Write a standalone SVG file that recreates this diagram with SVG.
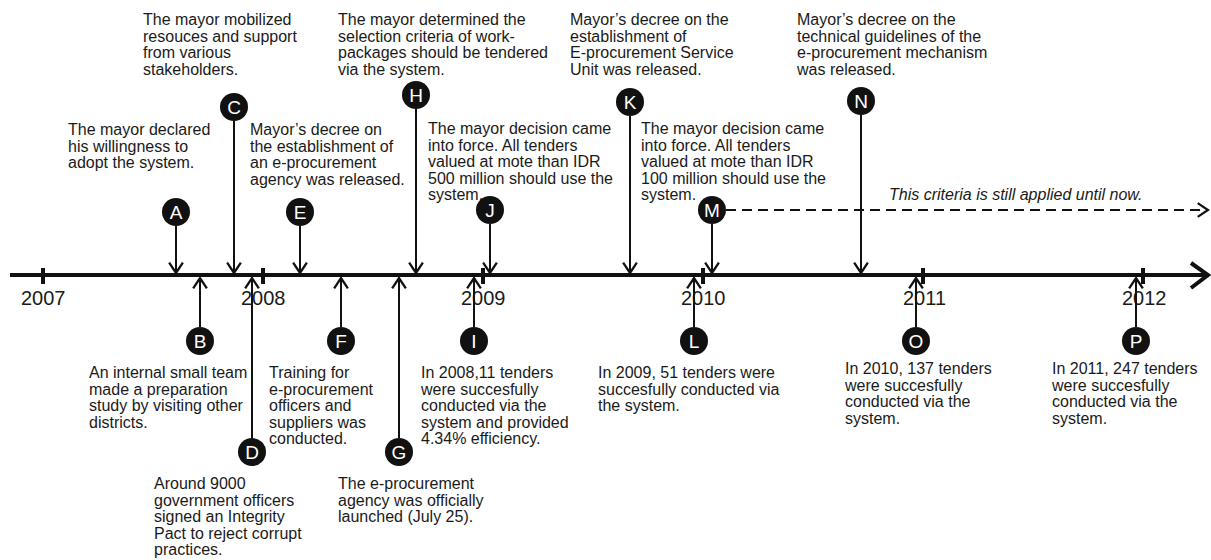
<svg xmlns="http://www.w3.org/2000/svg" width="1211" height="560" viewBox="0 0 1211 560">
<defs>
<style>
.t{font-family:"Liberation Sans",Arial,sans-serif;font-size:16px;fill:#1a1a1a}
.yr{font-family:"Liberation Sans",Arial,sans-serif;font-size:20px;fill:#1a1a1a}
.it{font-family:"Liberation Sans",Arial,sans-serif;font-size:16px;font-style:italic;fill:#1a1a1a}
.c{fill:#111}
.l{font-family:"Liberation Sans",Arial,sans-serif;font-size:19px;fill:#fff;text-anchor:middle}
.ln{stroke:#111;stroke-width:2;fill:none}
.tick{stroke:#111;stroke-width:4}
</style>
<marker id="ah" markerUnits="userSpaceOnUse" markerWidth="14" markerHeight="16" refX="10" refY="7" orient="auto" viewBox="0 0 12 14">
<path d="M1,1 L10,7 L1,13" fill="none" stroke="#111" stroke-width="2"/>
</marker>
</defs>
<rect width="1211" height="560" fill="#fff"/>
<g id="years">
<text class="yr" x="21" y="305">2007</text>
<text class="yr" x="241" y="305">2008</text>
<text class="yr" x="461" y="305">2009</text>
<text class="yr" x="681" y="305">2010</text>
<text class="yr" x="903" y="305">2011</text>
<text class="yr" x="1122" y="305">2012</text>
</g>
<g id="axis">
<line x1="10" y1="275" x2="1207" y2="275" stroke="#111" stroke-width="4"/>
<path d="M1191,263 L1208,275 L1191,288" fill="none" stroke="#111" stroke-width="4"/>
<line class="tick" x1="43" y1="268" x2="43" y2="284"/>
<line class="tick" x1="263" y1="268" x2="263" y2="284"/>
<line class="tick" x1="483" y1="268" x2="483" y2="284"/>
<line class="tick" x1="703" y1="268" x2="703" y2="284"/>
<line class="tick" x1="923" y1="268" x2="923" y2="284"/>
<line class="tick" x1="1143" y1="268" x2="1143" y2="284"/>
</g>
<g id="connectors">
<line class="ln" x1="176" y1="226" x2="176" y2="273" marker-end="url(#ah)"/>
<line class="ln" x1="200" y1="327" x2="200" y2="278" marker-end="url(#ah)"/>
<line class="ln" x1="234" y1="121" x2="234" y2="273" marker-end="url(#ah)"/>
<line class="ln" x1="252" y1="438" x2="252" y2="278" marker-end="url(#ah)"/>
<line class="ln" x1="300" y1="226" x2="300" y2="273" marker-end="url(#ah)"/>
<line class="ln" x1="341" y1="327" x2="341" y2="278" marker-end="url(#ah)"/>
<line class="ln" x1="399" y1="438" x2="399" y2="278" marker-end="url(#ah)"/>
<line class="ln" x1="416" y1="109" x2="416" y2="273" marker-end="url(#ah)"/>
<line class="ln" x1="474" y1="327" x2="474" y2="278" marker-end="url(#ah)"/>
<line class="ln" x1="490" y1="224" x2="490" y2="273" marker-end="url(#ah)"/>
<line class="ln" x1="630" y1="116" x2="630" y2="273" marker-end="url(#ah)"/>
<line class="ln" x1="694" y1="327" x2="694" y2="278" marker-end="url(#ah)"/>
<line class="ln" x1="712" y1="224" x2="712" y2="273" marker-end="url(#ah)"/>
<line class="ln" x1="861" y1="115" x2="861" y2="273" marker-end="url(#ah)"/>
<line class="ln" x1="916" y1="327" x2="916" y2="278" marker-end="url(#ah)"/>
<line class="ln" x1="1136" y1="327" x2="1136" y2="278" marker-end="url(#ah)"/>
<line class="ln" x1="726" y1="210" x2="1208" y2="210" stroke-dasharray="10 6" marker-end="url(#ah)"/>
<text class="it" x="889" y="200">This criteria is still applied until now.</text>
</g>
<g id="node-A">
<text class="t" x="68" y="135"><tspan x="68">The mayor declared</tspan><tspan x="68" dy="16.5">his willingness to</tspan><tspan x="68" dy="16.5">adopt the system.</tspan></text>
<circle class="c" cx="176" cy="212" r="14"/><text class="l" x="176" y="219">A</text>
</g>
<g id="node-B">
<circle class="c" cx="200" cy="341" r="14"/><text class="l" x="200" y="348">B</text>
<text class="t" x="89" y="378"><tspan x="89">An internal small team</tspan><tspan x="89" dy="16.5">made a preparation</tspan><tspan x="89" dy="16.5">study by visiting other</tspan><tspan x="89" dy="16.5">districts.</tspan></text>
</g>
<g id="node-C">
<text class="t" x="143" y="25"><tspan x="143">The mayor mobilized</tspan><tspan x="143" dy="16.5">resouces and support</tspan><tspan x="143" dy="16.5">from various</tspan><tspan x="143" dy="16.5">stakeholders.</tspan></text>
<circle class="c" cx="234" cy="107" r="14"/><text class="l" x="234" y="114">C</text>
</g>
<g id="node-D">
<circle class="c" cx="252" cy="452" r="14"/><text class="l" x="252" y="459">D</text>
<text class="t" x="154" y="489"><tspan x="154">Around 9000</tspan><tspan x="154" dy="16.5">government officers</tspan><tspan x="154" dy="16.5">signed an Integrity</tspan><tspan x="154" dy="16.5">Pact to reject corrupt</tspan><tspan x="154" dy="16.5">practices.</tspan></text>
</g>
<g id="node-E">
<text class="t" x="250" y="135"><tspan x="250">Mayor’s decree on</tspan><tspan x="250" dy="16.5">the establishment of</tspan><tspan x="250" dy="16.5">an e-procurement</tspan><tspan x="250" dy="16.5">agency was released.</tspan></text>
<circle class="c" cx="300" cy="212" r="14"/><text class="l" x="300" y="219">E</text>
</g>
<g id="node-F">
<circle class="c" cx="341" cy="341" r="14"/><text class="l" x="341" y="348">F</text>
<text class="t" x="269" y="378"><tspan x="269">Training for</tspan><tspan x="269" dy="16.5">e-procurement</tspan><tspan x="269" dy="16.5">officers and</tspan><tspan x="269" dy="16.5">suppliers was</tspan><tspan x="269" dy="16.5">conducted.</tspan></text>
</g>
<g id="node-G">
<circle class="c" cx="399" cy="452" r="14"/><text class="l" x="399" y="459">G</text>
<text class="t" x="338" y="489"><tspan x="338">The e-procurement</tspan><tspan x="338" dy="16.5">agency was officially</tspan><tspan x="338" dy="16.5">launched (July 25).</tspan></text>
</g>
<g id="node-H">
<text class="t" x="338" y="25"><tspan x="338">The mayor determined the</tspan><tspan x="338" dy="16.5">selection criteria of work-</tspan><tspan x="338" dy="16.5">packages should be tendered</tspan><tspan x="338" dy="16.5">via the system.</tspan></text>
<circle class="c" cx="416" cy="95" r="14"/><text class="l" x="416" y="102">H</text>
</g>
<g id="node-I">
<circle class="c" cx="474" cy="341" r="14"/><text class="l" x="474" y="348">I</text>
<text class="t" x="421" y="378"><tspan x="421">In 2008,11 tenders</tspan><tspan x="421" dy="16.5">were succesfully</tspan><tspan x="421" dy="16.5">conducted via the</tspan><tspan x="421" dy="16.5">system and provided</tspan><tspan x="421" dy="16.5">4.34% efficiency.</tspan></text>
</g>
<g id="node-J">
<text class="t" x="428" y="134"><tspan x="428">The mayor decision came</tspan><tspan x="428" dy="16.5">into force. All tenders</tspan><tspan x="428" dy="16.5">valued at mote than IDR</tspan><tspan x="428" dy="16.5">500 million should use the</tspan><tspan x="428" dy="16.5">system.</tspan></text>
<circle class="c" cx="490" cy="210" r="14"/><text class="l" x="490" y="217">J</text>
</g>
<g id="node-K">
<text class="t" x="570" y="25"><tspan x="570">Mayor’s decree on the</tspan><tspan x="570" dy="16.5">establishment of</tspan><tspan x="570" dy="16.5">E-procurement Service</tspan><tspan x="570" dy="16.5">Unit was released.</tspan></text>
<circle class="c" cx="630" cy="102" r="14"/><text class="l" x="630" y="109">K</text>
</g>
<g id="node-L">
<circle class="c" cx="694" cy="341" r="14"/><text class="l" x="694" y="348">L</text>
<text class="t" x="598" y="378"><tspan x="598">In 2009, 51 tenders were</tspan><tspan x="598" dy="16.5">succesfully conducted via</tspan><tspan x="598" dy="16.5">the system.</tspan></text>
</g>
<g id="node-M">
<text class="t" x="641" y="134"><tspan x="641">The mayor decision came</tspan><tspan x="641" dy="16.5">into force. All tenders</tspan><tspan x="641" dy="16.5">valued at mote than IDR</tspan><tspan x="641" dy="16.5">100 million should use the</tspan><tspan x="641" dy="16.5">system.</tspan></text>
<circle class="c" cx="712" cy="210" r="14"/><text class="l" x="712" y="217">M</text>
</g>
<g id="node-N">
<text class="t" x="797" y="25"><tspan x="797">Mayor’s decree on the</tspan><tspan x="797" dy="16.5">technical guidelines of the</tspan><tspan x="797" dy="16.5">e-procurement mechanism</tspan><tspan x="797" dy="16.5">was released.</tspan></text>
<circle class="c" cx="861" cy="101" r="14"/><text class="l" x="861" y="108">N</text>
</g>
<g id="node-O">
<circle class="c" cx="916" cy="341" r="14"/><text class="l" x="916" y="348">O</text>
<text class="t" x="845" y="374"><tspan x="845">In 2010, 137 tenders</tspan><tspan x="845" dy="16.5">were succesfully</tspan><tspan x="845" dy="16.5">conducted via the</tspan><tspan x="845" dy="16.5">system.</tspan></text>
</g>
<g id="node-P">
<circle class="c" cx="1136" cy="341" r="14"/><text class="l" x="1136" y="348">P</text>
<text class="t" x="1052" y="374"><tspan x="1052">In 2011, 247 tenders</tspan><tspan x="1052" dy="16.5">were succesfully</tspan><tspan x="1052" dy="16.5">conducted via the</tspan><tspan x="1052" dy="16.5">system.</tspan></text>
</g>
</svg>
